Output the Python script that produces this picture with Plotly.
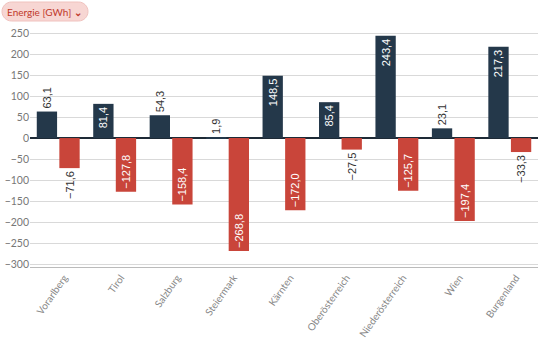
import plotly.graph_objects as go

regions = ["Vorarlberg", "Tirol", "Salzburg", "Steiermark", "Kärnten",
           "Oberösterreich", "Niederösterreich", "Wien", "Burgenland"]
produktion = [63.1, 81.4, 54.3, 1.9, 148.5, 85.4, 243.4, 23.1, 217.3]
verbrauch = [-71.6, -127.8, -158.4, -268.8, -172.0, -27.5, -125.7, -197.4, -33.3]
pos_dark = ["outside", "inside", "outside", "outside", "inside", "inside", "inside", "outside", "inside"]
pos_red = ["outside", "inside", "inside", "inside", "inside", "outside", "inside", "inside", "outside"]
y_ticks = [250, 200, 150, 100, 50, 0, -50, -100, -150, -200, -250, -300]


def fmt(v):
    s = f"{abs(v):.1f}".replace(".", ",")
    return ("−" + s) if v < 0 else s


DARK = "#24384a"
RED = "#c9453a"
LBL = "Liberation Sans"

fig = go.Figure()
for vals, col, pos in [(produktion, DARK, pos_dark), (verbrauch, RED, pos_red)]:
    fig.add_bar(x=regions, y=vals, marker_color=col, marker_line_width=0,
                text=[fmt(v) for v in vals], texttemplate="%{text}", textposition=pos,
                textangle=-90, insidetextanchor="end", cliponaxis=False,
                constraintext="none", hoverinfo="x+y",
                insidetextfont=dict(color="white", size=11, family=LBL),
                outsidetextfont=dict(color="#333", size=11, family=LBL))

# pill button
k = 0.5523 * 9.5
x0, x1, yb, yt = -18.5, 48.5, 7, 26
ym = (yb + yt) / 2
path = (f"M {x0},{yb} L {x1},{yb} "
        f"C {x1+k},{yb} {x1+9.5},{ym-k} {x1+9.5},{ym} "
        f"C {x1+9.5},{ym+k} {x1+k},{yt} {x1},{yt} "
        f"L {x0},{yt} "
        f"C {x0-k},{yt} {x0-9.5},{ym+k} {x0-9.5},{ym} "
        f"C {x0-9.5},{ym-k} {x0-k},{yb} {x0},{yb} Z")

fig.update_layout(
    width=540, height=360,
    margin=dict(l=30, r=2, t=28, b=93),
    paper_bgcolor="white", plot_bgcolor="white",
    showlegend=False,
    barmode="group", bargap=0.2, bargroupgap=0.1,
    font=dict(family="Lato", color="#777"),
    xaxis=dict(tickangle=-55, tickfont=dict(size=10, color="#888"),
               ticklabelshift=6, ticklabelstandoff=0,
               showline=True, linecolor="#bbb", linewidth=1,
               ticks="", showgrid=False, automargin=False),
    yaxis=dict(range=[-307, 262], tickvals=y_ticks, tickfont=dict(size=10.5, color="#777"),
               showgrid=True, gridcolor="#d9d9d9", gridwidth=1,
               zeroline=True, zerolinecolor="#1e2a36", zerolinewidth=1.5,
               ticks="", automargin=False),
    shapes=[dict(type="path", xref="paper", yref="paper", xsizemode="pixel",
                 ysizemode="pixel", xanchor=0, yanchor=1, path=path,
                 fillcolor="#f7d6d3", line=dict(color="#f0c2be", width=1),
                 layer="above")],
    annotations=[dict(xref="paper", yref="paper", x=-25 / 508, y=(267 - 12) / 239,
                      xanchor="left", yanchor="middle", showarrow=False,
                      text="Energie [GWh] <b>⌄</b>",
                      font=dict(size=10, color="#c0392b", family="Lato"))],
)

fig.write_html("out.html", config={"displayModeBar": False},
               post_script="document.body.style.margin='0';")
